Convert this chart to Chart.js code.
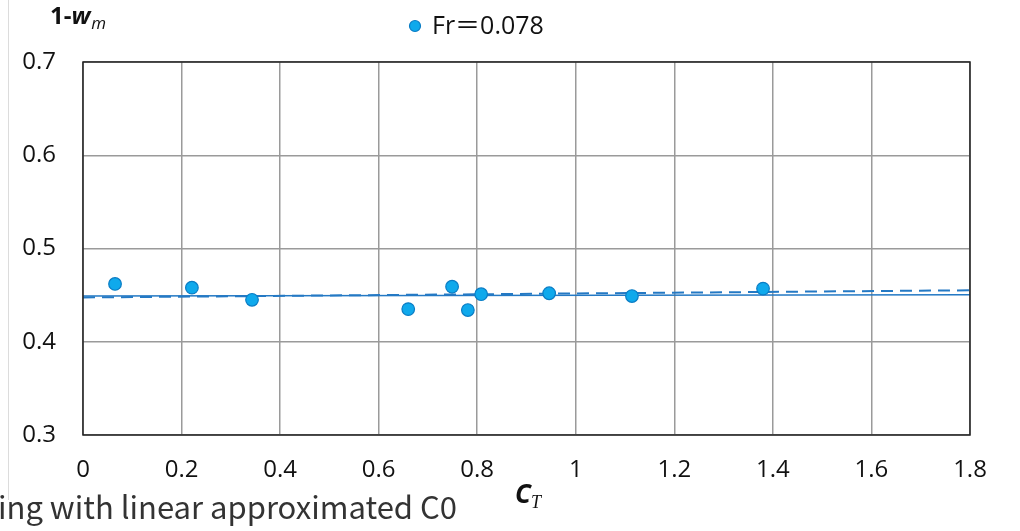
<!DOCTYPE html>
<html>
<head>
<meta charset="utf-8">
<script src="https://cdn.jsdelivr.net/npm/chart.js@4"></script>
<style>
  html, body { margin: 0; padding: 0; background: #fff; }
  canvas { display: block; }
</style>
</head>
<body>
<canvas id="chart" width="1020" height="531"></canvas>
<script>
// measured points, Fr = 0.078
const ctValues = [0.065, 0.221, 0.343, 0.660, 0.749, 0.781, 0.808, 0.946, 1.114, 1.380];
const wakeValues = [0.462, 0.458, 0.445, 0.435, 0.459, 0.434, 0.451, 0.452, 0.449, 0.457];

// fitted lines across the whole C_T range
const fitX = [0, 1.8];
const fitSolid = [0.449, 0.4505];
const fitDashed = [0.4475, 0.4552];

const xTicks = [0, 0.2, 0.4, 0.6, 0.8, 1, 1.2, 1.4, 1.6, 1.8];
const yTicks = [0.3, 0.4, 0.5, 0.6, 0.7];

const seriesLabel = 'Fr\uFF1D0.078';
const captionText = 'ing with linear approximated C0';

const FONT = '"Open Sans", "Noto Sans CJK JP", sans-serif';

const extras = {
  id: 'extras',
  beforeDraw(chart) {
    const ctx = chart.ctx;
    ctx.save();
    ctx.fillStyle = '#fff';
    ctx.fillRect(0, 0, chart.width, chart.height);
    ctx.strokeStyle = '#dcdcdc';
    ctx.lineWidth = 1;
    ctx.beginPath();
    ctx.moveTo(8.5, 0);
    ctx.lineTo(8.5, 500);
    ctx.stroke();
    ctx.restore();
  },
  afterDatasetsDraw(chart) {
    const ctx = chart.ctx;
    const a = chart.chartArea;
    ctx.save();
    // plot frame
    ctx.strokeStyle = '#222';
    ctx.lineWidth = 1.5;
    ctx.strokeRect(a.left, a.top, a.right - a.left, a.bottom - a.top);

    // y axis title 1-w_m
    ctx.fillStyle = '#111';
    ctx.textBaseline = 'alphabetic';
    ctx.textAlign = 'left';
    let x = 50, y = 24;
    ctx.font = 'bold 24px ' + FONT;
    ctx.fillText('1-', x, y);
    x += ctx.measureText('1-').width;
    ctx.font = 'italic bold 24px ' + FONT;
    ctx.fillText('w', x, y);
    x += ctx.measureText('w').width + 1;
    ctx.font = 'italic 17px ' + FONT;
    ctx.fillText('m', x, y + 5);

    // x axis title C_T
    x = 515; y = 503;
    ctx.font = 'italic bold 26px ' + FONT;
    ctx.fillText('C', x, y);
    x += ctx.measureText('C').width;
    ctx.font = 'italic 18px "Liberation Serif", "DejaVu Serif", serif';
    ctx.fillText('T', x, y + 5);

    // legend
    const ds = chart.data.datasets[0];
    ctx.beginPath();
    ctx.arc(415, 26, 5.5, 0, Math.PI * 2);
    ctx.fillStyle = ds.backgroundColor;
    ctx.fill();
    ctx.lineWidth = 1.2;
    ctx.strokeStyle = ds.borderColor;
    ctx.stroke();
    ctx.fillStyle = '#111';
    ctx.font = '25px ' + FONT;
    ctx.textBaseline = 'middle';
    ctx.fillText(ds.label, 432, 27);

    // caption fragment
    ctx.fillStyle = '#333';
    ctx.font = '31px "Noto Sans CJK JP", "Open Sans", sans-serif';
    ctx.textBaseline = 'alphabetic';
    ctx.fillText(captionText, -2, 519);
    ctx.restore();
  }
};

new Chart(document.getElementById('chart'), {
  type: 'scatter',
  data: {
    datasets: [
      {
        label: seriesLabel,
        data: ctValues.map((v, i) => ({ x: v, y: wakeValues[i] })),
        backgroundColor: '#0fa9ec',
        borderColor: '#0a7cc4',
        borderWidth: 1.2,
        pointRadius: 6.3,
        order: 0
      },
      {
        type: 'line',
        label: 'linear fit',
        data: fitX.map((v, i) => ({ x: v, y: fitSolid[i] })),
        borderColor: '#2479c4',
        borderWidth: 1.5,
        pointRadius: 0,
        fill: false,
        order: 2
      },
      {
        type: 'line',
        label: 'linear fit C0',
        data: fitX.map((v, i) => ({ x: v, y: fitDashed[i] })),
        borderColor: '#2479c4',
        borderWidth: 2,
        borderDash: [12, 7],
        pointRadius: 0,
        fill: false,
        order: 1
      }
    ]
  },
  options: {
    responsive: false,
    animation: false,
    layout: { padding: { left: 0, top: 62, right: 50, bottom: 0 } },
    plugins: {
      legend: { display: false },
      tooltip: { enabled: false }
    },
    scales: {
      x: {
        type: 'linear',
        min: 0,
        max: 1.8,
        afterBuildTicks: s => { s.ticks = xTicks.map(v => ({ value: v })); },
        afterFit: s => { s.height = 96; },
        grid: { color: '#9a9a9a', lineWidth: 1.5, drawTicks: false },
        border: { display: false },
        ticks: {
          color: '#111',
          font: { family: FONT, size: 24 },
          padding: 21,
          maxRotation: 0,
          callback: v => String(v)
        }
      },
      y: {
        type: 'linear',
        min: 0.3,
        max: 0.7,
        afterBuildTicks: s => { s.ticks = yTicks.map(v => ({ value: v })); },
        afterFit: s => { s.width = 83; },
        grid: { color: '#9a9a9a', lineWidth: 1.5, drawTicks: false },
        border: { display: false },
        ticks: {
          color: '#111',
          font: { family: FONT, size: 24 },
          padding: 27,
          callback: v => v.toFixed(1)
        }
      }
    }
  },
  plugins: [extras]
});
</script>
</body>
</html>
